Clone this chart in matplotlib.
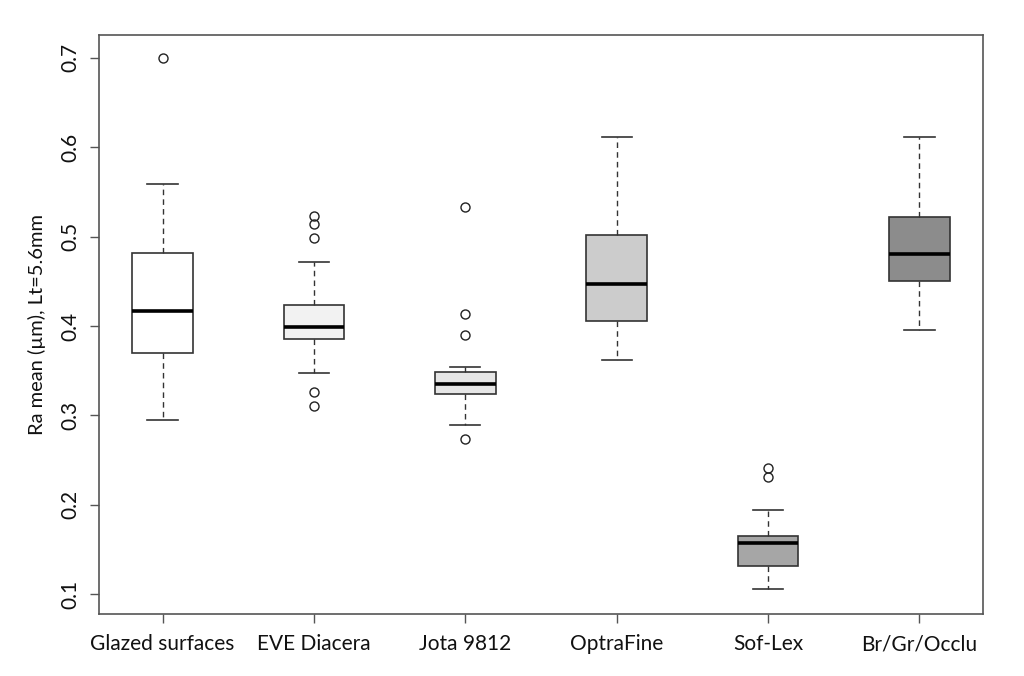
import matplotlib
matplotlib.use("Agg")
import matplotlib.pyplot as plt

categories = ["Glazed surfaces", "EVE Diacera", "Jota 9812", "OptraFine", "Sof-Lex", "Br/Gr/Occlu"]
whisker_low = [0.295, 0.347, 0.289, 0.362, 0.106, 0.395]
q1 = [0.370, 0.386, 0.324, 0.406, 0.131, 0.450]
median = [0.417, 0.399, 0.335, 0.447, 0.157, 0.481]
q3 = [0.482, 0.424, 0.349, 0.502, 0.165, 0.522]
whisker_high = [0.559, 0.472, 0.354, 0.612, 0.194, 0.612]
outliers = [
    [0.700],
    [0.523, 0.514, 0.498, 0.326, 0.311],
    [0.533, 0.414, 0.390, 0.274],
    [],
    [0.241, 0.231],
    [],
]
fill_colors = ["#FFFFFF", "#F2F2F2", "#E6E6E6", "#CCCCCC", "#A6A6A6", "#8C8C8C"]
y_ticks = [0.1, 0.2, 0.3, 0.4, 0.5, 0.6, 0.7]
y_label = "Ra mean (µm), Lt=5.6mm"

plt.rcParams['font.family'] = ['Lato', 'DejaVu Sans']

fig = plt.figure(figsize=(10.24, 6.76), dpi=100)
ax = fig.add_axes([99/1024, 1 - 614/676, (983-99)/1024, (614-35)/676])

stats = []
for i, c in enumerate(categories):
    stats.append(dict(label=c, whislo=whisker_low[i], q1=q1[i], med=median[i],
                      q3=q3[i], whishi=whisker_high[i], fliers=outliers[i]))

positions = list(range(1, len(categories) + 1))
bp = ax.bxp(stats, positions=positions, widths=0.4, patch_artist=True,
            showfliers=True,
            boxprops=dict(edgecolor="#333333", linewidth=1.2),
            medianprops=dict(color="black", linewidth=2.6, solid_capstyle="butt"),
            whiskerprops=dict(color="#333333", linewidth=1.0, linestyle=(0, (4, 3))),
            capprops=dict(color="#333333", linewidth=1.2),
            flierprops=dict(marker="o", markerfacecolor="none", markeredgecolor="#222222",
                            markersize=6.5, markeredgewidth=1.0, linestyle="none"))
for patch, col in zip(bp["boxes"], fill_colors):
    patch.set_facecolor(col)

ax.set_xlim(0.58, 6.42)
ax.set_ylim(0.0778, 0.7256)
ax.set_xticks(positions)
ax.set_xticklabels(categories, fontsize=15, color="#111111")
ax.set_yticks(y_ticks)
ax.set_yticklabels([f"{v:.1f}" for v in y_ticks], fontsize=15, rotation=90,
                   va="center", color="#111111")
ax.set_ylabel(y_label, fontsize=14.5, color="#111111", labelpad=10)
ax.tick_params(axis="both", direction="out", length=6.5, width=1.0, colors="#555555",
               labelcolor="#111111")
ax.tick_params(axis="x", pad=8)
ax.tick_params(axis="y", pad=7)
for s in ax.spines.values():
    s.set_color("#555555")
    s.set_linewidth(1.2)

fig.savefig("out.png", dpi=100)
